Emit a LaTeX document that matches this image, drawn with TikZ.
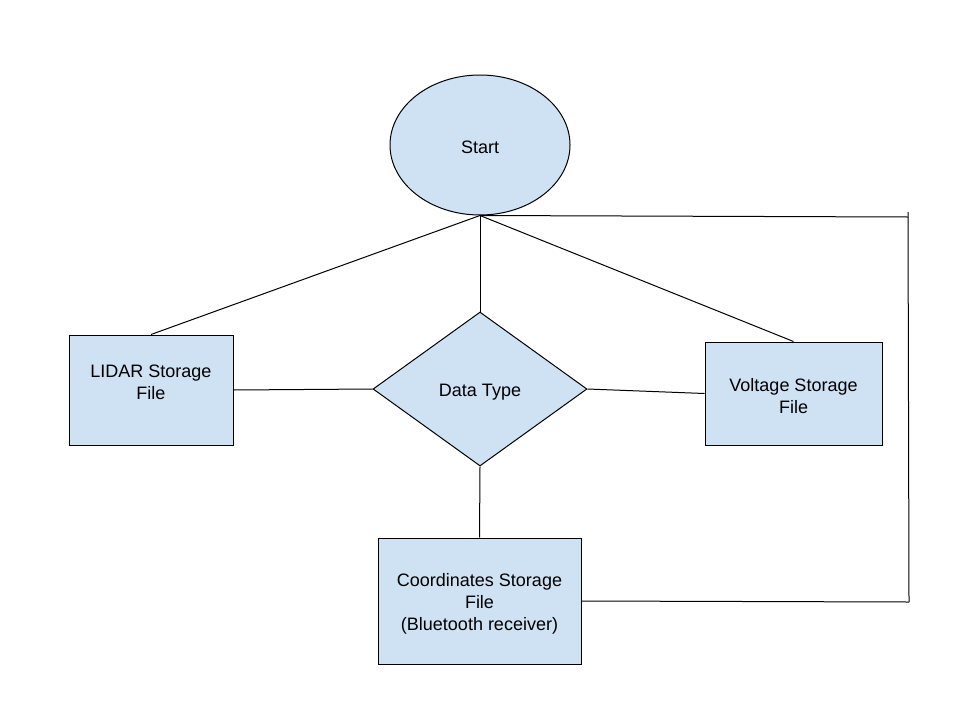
\documentclass[tikz,border=0pt]{standalone}
\usepackage{fontspec}
\setmainfont{Liberation Sans}
\usetikzlibrary{shapes.geometric}
\definecolor{boxfill}{HTML}{CFE2F3}
\tikzset{
  every node/.style={font=\fontsize{18}{22}\selectfont, align=center},
  procbox/.style={draw=black, fill=boxfill, line width=1pt, rectangle, inner sep=0pt},
  link/.style={draw=black, line width=1pt}
}
\begin{document}
\begin{tikzpicture}[x=1pt,y=-1pt]
\useasboundingbox (0,0) rectangle (960,720);
\node[draw=black, fill=boxfill, line width=1pt, ellipse, minimum width=180, minimum height=140, inner sep=0pt] (start) at (480,145) {};
\node (starttext) at (480,147) {Start};
\node[draw=black, fill=boxfill, line width=1pt, diamond, minimum width=214, minimum height=154, inner sep=0pt, aspect=1.39] (dtype) at (480,389) {};
\node (dtypetext) at (480,392) {Data Type};
\node[procbox, minimum width=164, minimum height=110] (lidar) at (151,390) {};
\node (lidartext) at (151,382) {LIDAR Storage\\File};
\node[procbox, minimum width=177, minimum height=103] (volt) at (793.5,393.5) {};
\node (volttext) at (793.5,396) {Voltage Storage\\File};
\node[procbox, minimum width=203, minimum height=126] (coord) at (479.5,601) {};
\node (coordtext) at (479.5,604) {Coordinates Storage\\File\\(Bluetooth receiver)};
\coordinate (rtop) at (908,217);
\coordinate (rbot) at (909,602);
\draw[link] (start.south) -- (lidar.north);
\draw[link] (start.south) -- (dtype.north);
\draw[link] (start.south) -- (volt.north);
\draw[link] (start.south) -- (rtop);
\draw[link] (908,212) -- (rbot);
\draw[link] (coord.east) -- (rbot);
\draw[link] (dtype.west) -- (lidar.east);
\draw[link] (dtype.east) -- (volt.west);
\draw[link] (dtype.south) -- (coord.north);
\end{tikzpicture}
\end{document}
